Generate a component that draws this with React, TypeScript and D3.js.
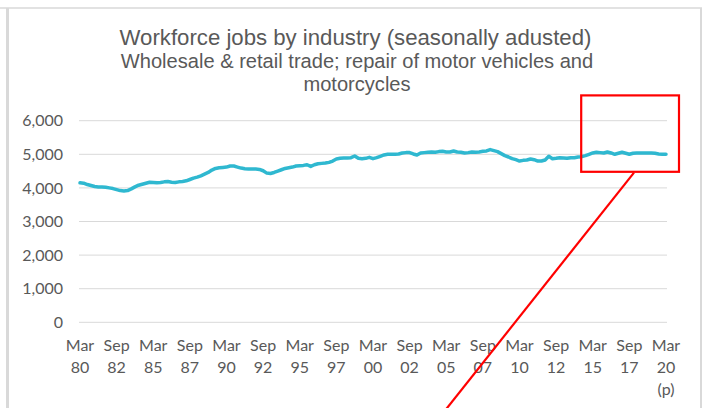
import React from "react";
import * as d3 from "d3";

const TITLE = "Workforce jobs by industry (seasonally adusted)";
const SUBTITLE_LINES = ["Wholesale & retail trade; repair of motor vehicles and", "motorcycles"];

// Quarterly workforce jobs (thousands), Mar 1980 .. Mar 2020
const jobs: number[] = [
  4150, 4140, 4100, 4070, 4040, 4030, 4030, 4020, 4000, 3980, 3950,
  3920, 3910, 3920, 3970, 4030, 4080, 4110, 4140, 4170, 4160,
  4150, 4160, 4180, 4190, 4170, 4160, 4180, 4190, 4210, 4250,
  4290, 4320, 4360, 4410, 4460, 4530, 4580, 4600, 4610, 4620,
  4650, 4650, 4620, 4590, 4570, 4560, 4560, 4560, 4550, 4510,
  4440, 4430, 4460, 4500, 4540, 4580, 4600, 4620, 4650, 4660,
  4670, 4690, 4640, 4690, 4720, 4730, 4740, 4760, 4800, 4860,
  4880, 4890, 4890, 4900, 4950, 4880, 4870, 4880, 4910, 4870,
  4900, 4940, 4980, 5000, 5000, 5000, 5010, 5040, 5050, 5050,
  5010, 4980, 5040, 5050, 5060, 5070, 5060, 5080, 5090, 5070,
  5070, 5100, 5070, 5060, 5040, 5050, 5070, 5060, 5070, 5090,
  5100, 5140, 5110, 5080, 5020, 4960, 4920, 4870, 4840, 4800,
  4820, 4830, 4860, 4840, 4800, 4800, 4830, 4940, 4870, 4880,
  4900, 4890, 4880, 4900, 4900, 4920, 4930, 4960, 5000, 5040,
  5060, 5050, 5040, 5070, 5040, 5000, 5030, 5060, 5030, 5000,
  5030, 5040, 5040, 5040, 5040, 5040, 5030, 5010, 5000, 5000,
];

const yTicks: number[] = [0, 1000, 2000, 3000, 4000, 5000, 6000];
const xTickIndex: number[] = [0, 10, 20, 30, 40, 50, 60, 70, 80, 90, 100, 110, 120, 130, 140, 150, 160];
const xTickMonth: string[] = ["Mar", "Sep", "Mar", "Sep", "Mar", "Sep", "Mar", "Sep", "Mar", "Sep", "Mar", "Sep", "Mar", "Sep", "Mar", "Sep", "Mar"];
const xTickYear: string[] = ["80", "82", "85", "87", "90", "92", "95", "97", "00", "02", "05", "07", "10", "12", "15", "17", "20"];
const xTickNote: string[] = ["", "", "", "", "", "", "", "", "", "", "", "", "", "", "", "", "(p)"];

export default function App() {
  const W = 707, H = 408;
  const x = d3.scaleLinear().domain([0, jobs.length - 1]).range([80, 666]);
  const y = d3.scaleLinear().domain([0, 6000]).range([322.3, 120.7]);
  const line = d3.line<number>().x((_, i) => x(i)).y((d) => y(d)).curve(d3.curveLinear);
  const grey = "#595959";
  const axisFont = "Lato, 'Open Sans', sans-serif";
  const titleFont = "'Liberation Sans', Arial, sans-serif";

  return (
    <svg width={W} height={H} style={{ position: "absolute", left: 0, top: 0, background: "#fff" }}>
      <rect x={0} y={0} width={W} height={H} fill="#fff" />
      {/* frame */}
      <line x1={0} y1={8} x2={702} y2={8} stroke="#d9d9d9" strokeWidth={1.5} />
      <line x1={7.5} y1={8} x2={7.5} y2={H} stroke="#d9d9d9" strokeWidth={3} />
      <line x1={701} y1={8} x2={701} y2={H} stroke="#d9d9d9" strokeWidth={2} />

      {/* titles */}
      <text x={355.5} y={45} textAnchor="middle" fontFamily={titleFont} fontSize={22.2} fill={grey}>
        {TITLE}
      </text>
      {SUBTITLE_LINES.map((t, i) => (
        <text key={i} x={357} y={67.5 + i * 23.5} textAnchor="middle" fontFamily={titleFont} fontSize={20.1} fill={grey}>
          {t}
        </text>
      ))}

      {/* grid */}
      {yTicks.map((t) => (
        <g key={t}>
          <line x1={79} x2={667} y1={y(t)} y2={y(t)} stroke="#d9d9d9" strokeWidth={1} />
          <text x={63} y={y(t)} dy="0.36em" textAnchor="end" fontFamily={axisFont} fontSize={16} fill={grey}>
            {d3.format(",")(t)}
          </text>
        </g>
      ))}

      {/* x labels */}
      {xTickIndex.map((idx, i) => (
        <g key={idx}>
          <text x={x(idx)} y={350.5} textAnchor="middle" fontFamily={axisFont} fontSize={16} fill={grey}>
            {xTickMonth[i]}
          </text>
          <text x={x(idx)} y={372.5} textAnchor="middle" fontFamily={axisFont} fontSize={16} fill={grey}>
            {xTickYear[i]}
          </text>
          {xTickNote[i] && (
            <text x={x(idx)} y={394.5} textAnchor="middle" fontFamily={axisFont} fontSize={16} fill={grey}>
              {xTickNote[i]}
            </text>
          )}
        </g>
      ))}

      {/* series */}
      <path d={line(jobs) || ""} fill="none" stroke="#2fb8d0" strokeWidth={3.5} strokeLinejoin="round" strokeLinecap="round" />

      {/* annotation */}
      <rect x={581.2} y={95.4} width={97.8} height={76.4} fill="none" stroke="#ff0000" strokeWidth={2.2} />
      <line x1={634} y1={172.6} x2={441.5} y2={415} stroke="#ff0000" strokeWidth={2.2} />
    </svg>
  );
}
